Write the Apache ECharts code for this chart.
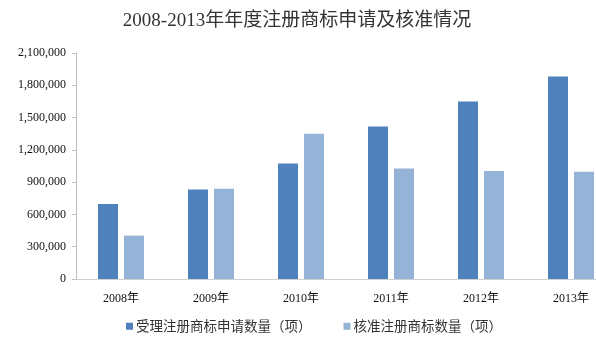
<!DOCTYPE html>
<html>
<head>
<meta charset="utf-8">
<script src="https://cdn.jsdelivr.net/npm/echarts@6/dist/echarts.min.js"></script>
<style>
  html, body { margin: 0; padding: 0; background: #fff; overflow: hidden; }
  #chart { width: 616px; height: 354px; }
</style>
</head>
<body>
<div id="chart"></div>
<script>
const title = '2008-2013年年度注册商标申请及核准情况'
const years = ['2008年', '2009年', '2010年', '2011年', '2012年', '2013年']
const applied = [698000, 830477, 1072187, 1416785, 1648316, 1881546]
const approved = [403000, 837643, 1349000, 1027000, 1004600, 996700]
const seriesNames = ['受理注册商标申请数量（项）', '核准注册商标数量（项）']
const colors = ['#4F81BD', '#95B3D7']

const serif = '"Liberation Serif", "DejaVu Serif", "Noto Sans CJK SC", serif'

// chart is 20px wider than the window: the last group runs off the right edge, as in the source
const chart = echarts.init(document.getElementById('chart'))

const fmt = v => v.toString().replace(/\B(?=(\d{3})+(?!\d))/g, ',')

chart.setOption({
  animation: false,
  color: colors,
  title: {
    text: title,
    left: 292,
    textAlign: 'center',
    top: 7,
    textStyle: {
      fontFamily: serif,
      fontSize: 19,
      fontWeight: 'normal',
      color: '#333'
    }
  },
  grid: {
    left: 76,
    right: 0,
    top: 53,
    bottom: 75
  },
  legend: {
    bottom: 16,
    left: 121,
    itemWidth: 7,
    itemHeight: 7,
    itemGap: 32,
    icon: 'rect',
    textStyle: {
      fontFamily: '"Noto Sans CJK SC", sans-serif',
      fontSize: 13.5,
      color: '#333',
      padding: [0, 0, 0, -2]
    },
    data: seriesNames
  },
  xAxis: {
    type: 'category',
    data: years,
    axisLine: { lineStyle: { color: '#d0d0d0' } },
    axisTick: { inside: true, length: 5, lineStyle: { color: '#b0b0b0' } },
    axisLabel: {
      fontFamily: serif,
      fontSize: 12,
      color: '#111',
      margin: 14
    }
  },
  yAxis: {
    type: 'value',
    min: 0,
    max: 2100000,
    interval: 300000,
    axisLine: { show: true, lineStyle: { color: '#c0c0c0' } },
    axisTick: { show: true, length: 4, lineStyle: { color: '#c0c0c0' } },
    splitLine: { show: false },
    axisLabel: {
      fontFamily: serif,
      fontSize: 12,
      color: '#111',
      margin: 10,
      formatter: fmt
    }
  },
  series: [
    {
      name: seriesNames[0],
      type: 'bar',
      data: applied,
      barWidth: 20,
      barGap: '30%'
    },
    {
      name: seriesNames[1],
      type: 'bar',
      data: approved,
      barWidth: 20,
      barGap: '30%'
    }
  ]
})
</script>
</body>
</html>
